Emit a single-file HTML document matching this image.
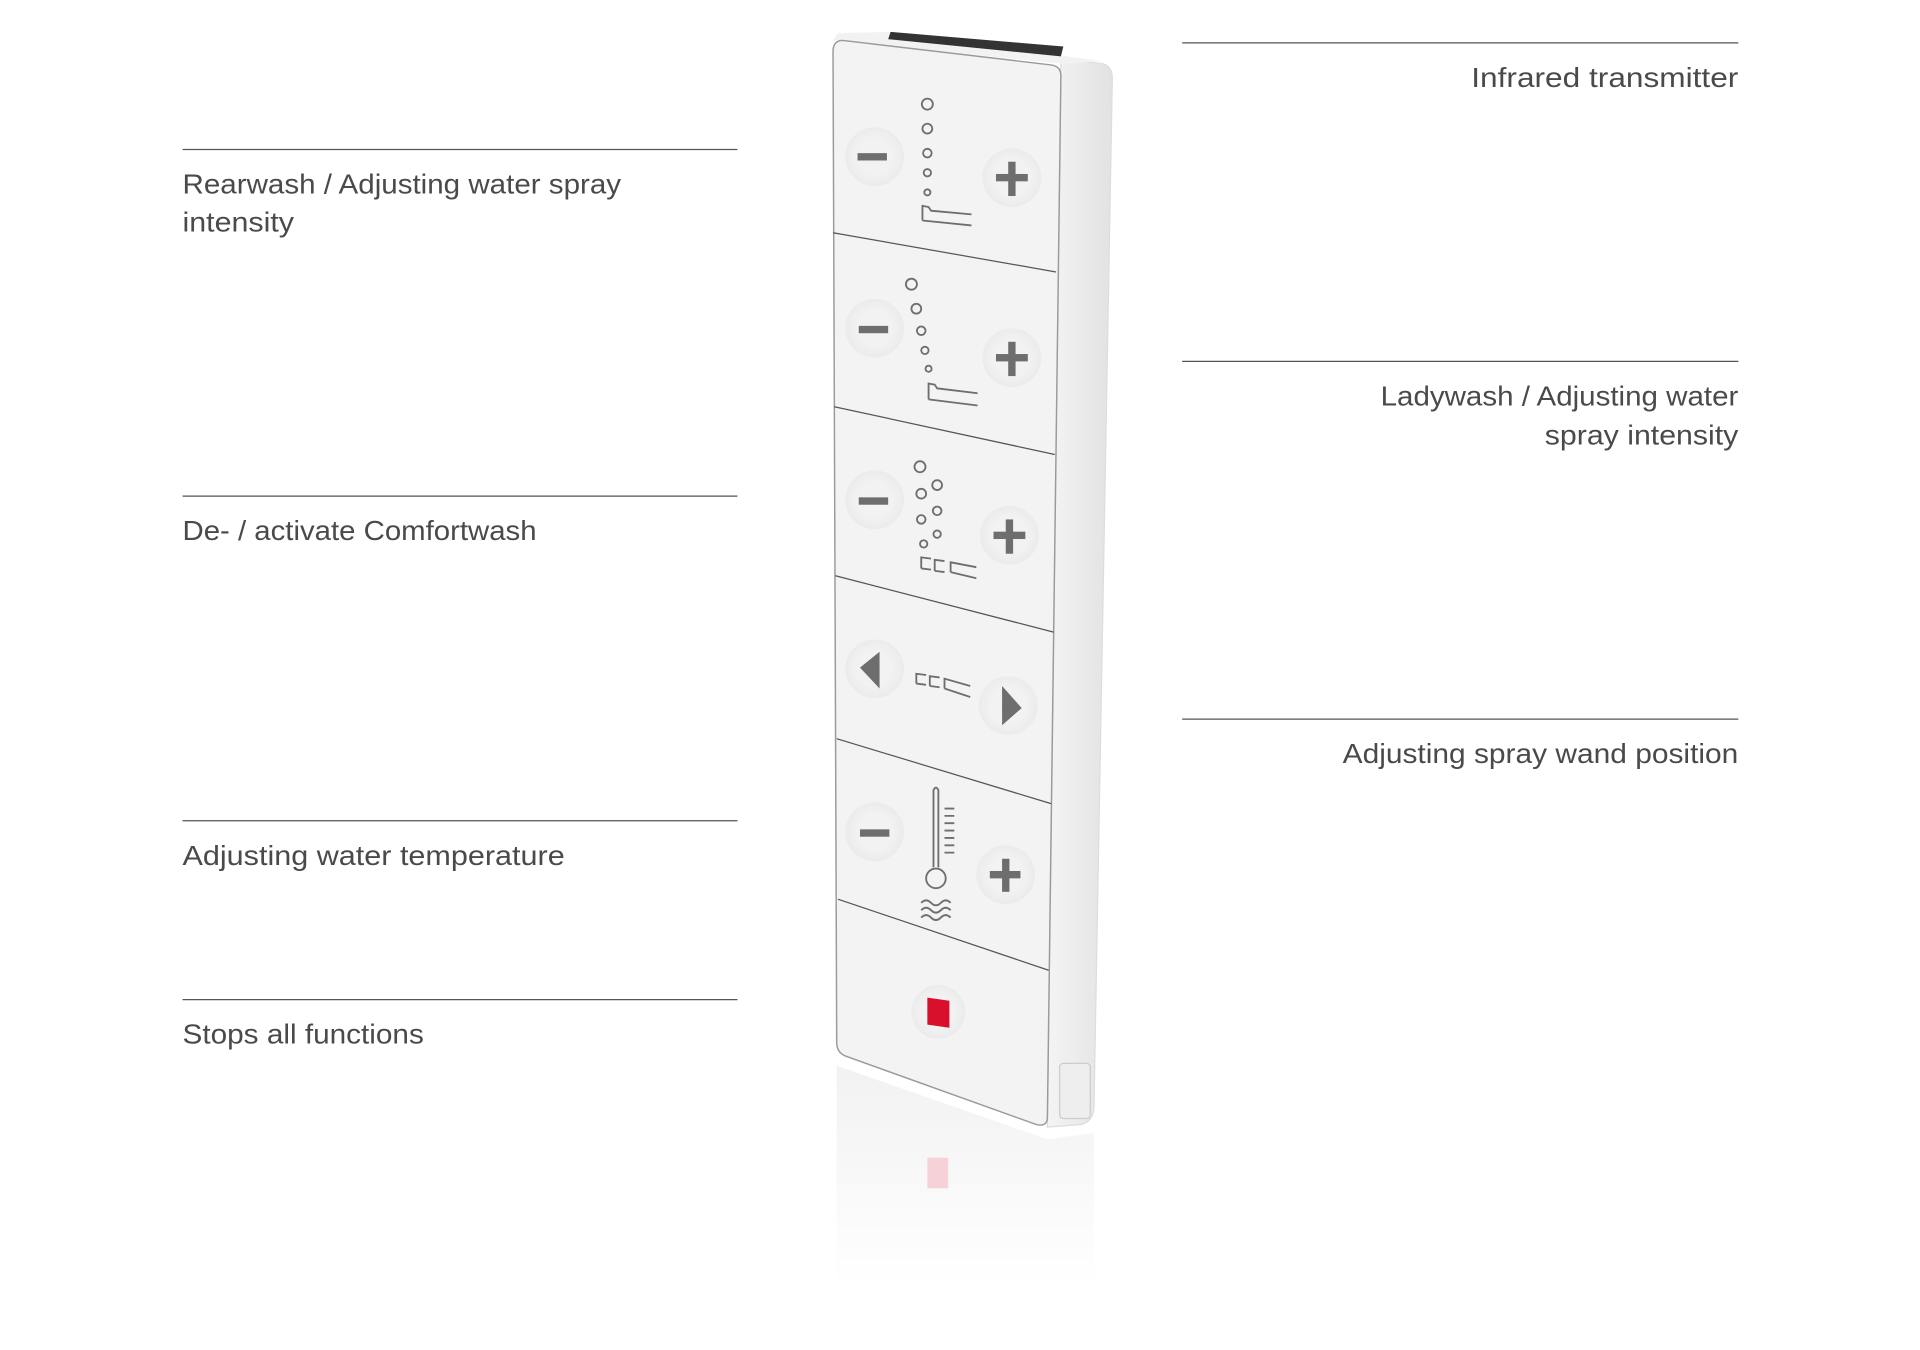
<!DOCTYPE html>
<html><head><meta charset="utf-8"><style>
html,body{margin:0;padding:0;background:#fff;width:1920px;height:1350px;overflow:hidden}
svg{display:block}
text{font-family:"Liberation Sans",sans-serif;font-size:23px;fill:#4a4a4a}
</style></head><body>
<svg width="1920" height="1350" viewBox="0 0 1567.3 1102" xmlns="http://www.w3.org/2000/svg">
<defs>
<linearGradient id="refl" x1="0" y1="0" x2="0" y2="1">
<stop offset="0" stop-color="#eeeeee"/><stop offset="1" stop-color="#ffffff"/>
</linearGradient>
<linearGradient id="side" x1="0" y1="0" x2="1" y2="0">
<stop offset="0" stop-color="#f4f4f4"/><stop offset="1" stop-color="#e2e2e2"/>
</linearGradient>
<radialGradient id="btn"><stop offset="0.6" stop-color="#f2f2f2"/><stop offset="1" stop-color="#ebebeb"/></radialGradient>
</defs>
<g stroke="#555" stroke-width="1">
<line x1="149" y1="122" x2="602" y2="122"/>
<line x1="149" y1="405" x2="602" y2="405"/>
<line x1="149" y1="670" x2="602" y2="670"/>
<line x1="149" y1="816" x2="602" y2="816"/>
<line x1="965" y1="35" x2="1419" y2="35"/>
<line x1="965" y1="295" x2="1419" y2="295"/>
<line x1="965" y1="587" x2="1419" y2="587"/>
</g>
<text x="149" y="158" textLength="358" lengthAdjust="spacingAndGlyphs">Rearwash / Adjusting water spray</text>
<text x="149" y="189" textLength="91" lengthAdjust="spacingAndGlyphs">intensity</text>
<text x="149" y="441" textLength="289" lengthAdjust="spacingAndGlyphs">De- / activate Comfortwash</text>
<text x="149" y="706" textLength="312" lengthAdjust="spacingAndGlyphs">Adjusting water temperature</text>
<text x="149" y="852" textLength="197" lengthAdjust="spacingAndGlyphs">Stops all functions</text>
<text x="1201" y="71" textLength="218" lengthAdjust="spacingAndGlyphs">Infrared transmitter</text>
<text x="1127" y="331" textLength="292" lengthAdjust="spacingAndGlyphs">Ladywash / Adjusting water</text>
<text x="1261" y="363" textLength="158" lengthAdjust="spacingAndGlyphs">spray intensity</text>
<text x="1096" y="623" textLength="323" lengthAdjust="spacingAndGlyphs">Adjusting spray wand position</text>

<polygon points="683,870 855,930 893,925 893,1050 683,1050" fill="url(#refl)" opacity="0.8"/>
<rect x="757" y="945" width="17" height="25" fill="#f6d2d8"/>

<path d="M866,48 L900,52 Q908,54 908,64 L893,905 Q892,916 882,918 L855,920 Z" fill="url(#side)" stroke="#ddd"/>
<path d="M684,27 L725,26 L900,50 L866,52 L680,33 Z" fill="#f2f2f2"/>
<polygon points="727,26 868,38 866,46 725,32" fill="#333"/>
<path d="M688,33 L858,53 Q866,54 866,62 L855,912 Q855,920 846,918 L690,862 Q683,859 683,851 L680,42 Q680,33 688,33 Z" fill="#f3f3f3" stroke="#9a9a9a" stroke-width="1.2"/>
<rect x="865" y="868" width="25" height="45" rx="3" fill="#eee" stroke="#ccc"/>
<g stroke="#555" stroke-width="1">
<line x1="680" y1="190" x2="862" y2="222"/>
<line x1="681" y1="332" x2="861" y2="371"/>
<line x1="682" y1="470" x2="860" y2="516"/>
<line x1="683" y1="603" x2="858" y2="656"/>
<line x1="684" y1="734" x2="856" y2="792"/>
</g>
<g fill="url(#btn)">
<circle cx="714" cy="128" r="24"/><circle cx="826" cy="145" r="24"/>
<circle cx="714" cy="268" r="24"/><circle cx="826" cy="292" r="24"/>
<circle cx="714" cy="408" r="24"/><circle cx="824" cy="437" r="24"/>
<circle cx="714" cy="546" r="24"/><circle cx="823" cy="576" r="24"/>
<circle cx="714" cy="679" r="24"/><circle cx="821" cy="714" r="24"/>
<circle cx="766" cy="826" r="22"/>
</g>
<g fill="#6e6e6e">
<rect x="700" y="125" width="24" height="6"/>
<rect x="813" y="142" width="26" height="6"/><rect x="823" y="132" width="6" height="28"/>
<rect x="701" y="266" width="24" height="6"/>
<rect x="813" y="289" width="26" height="6"/><rect x="823" y="279" width="6" height="28"/>
<rect x="701" y="406" width="24" height="6"/>
<rect x="811" y="434" width="26" height="6"/><rect x="821" y="424" width="6" height="28"/>
<polygon points="718,532 718,562 702,545"/>
<polygon points="818,560 818,592 834,578"/>
<rect x="702" y="677" width="24" height="6"/>
<rect x="808" y="711" width="25" height="6"/><rect x="818" y="701" width="6" height="27"/>
</g>
<rect x="757" y="815" width="18" height="22" fill="#d9102c" transform="skewY(8) translate(0,-107)"/>
<g fill="none" stroke="#6e6e6e" stroke-width="1.5">
<circle cx="757" cy="85" r="4.5"/><circle cx="757" cy="105" r="4"/><circle cx="757" cy="125" r="3.5"/><circle cx="757" cy="141" r="3"/><circle cx="757" cy="157" r="2.5"/>
<path d="M753,180 L753,168 L758,169 L760,172 L793,175 M753,180 L793,184"/>
<circle cx="744" cy="232" r="4.5"/><circle cx="748" cy="252" r="4"/><circle cx="752" cy="270" r="3.5"/><circle cx="755" cy="286" r="3"/><circle cx="758" cy="301" r="2.5"/>
<path d="M758,326 L758,313 L763,314 L765,317 L798,321 M758,326 L798,331"/>
<circle cx="751" cy="381" r="4.5"/><circle cx="752" cy="403" r="4"/><circle cx="752" cy="424" r="3.5"/><circle cx="754" cy="444" r="3"/>
<circle cx="765" cy="396" r="4"/><circle cx="765" cy="417" r="3.5"/><circle cx="765" cy="436" r="3"/>
<path d="M752,464 L752,455 L760,456 M752,464 L760,465 M763,466 L763,457 L771,458 M763,466 L771,467 M776,467 L776,459 L797,463 M776,467 L797,472"/>
<path d="M748,558 L748,550 L756,551 M748,558 L756,559 M759,560 L759,552 L767,553 M759,560 L767,561 M771,562 L771,554 L792,560 M771,562 L792,569"/>
<path d="M762,708 L762,645 Q764,641 766,645 L766,708"/>
<circle cx="764" cy="717" r="8"/>
<path d="M771,660 h8 M771,666 h8 M771,672 h8 M771,678 h8 M771,684 h8 M771,690 h8 M771,696 h8"/>
<path d="M752,737 q4,-4 8,0 t8,0 t8,0 M752,743 q4,-4 8,0 t8,0 t8,0 M752,749 q4,-4 8,0 t8,0 t8,0"/>
</g>
</svg>
</body></html>
